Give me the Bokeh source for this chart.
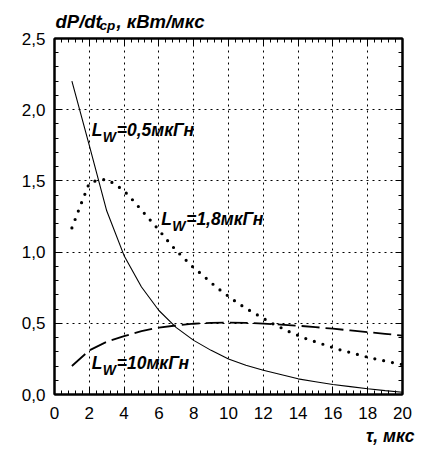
from bokeh.plotting import figure
from bokeh.models import Range1d, SingleIntervalTicker, LinearAxis, Label, CustomLabelingPolicy
from bokeh.core.properties import value
from bokeh.embed import file_html
from bokeh.resources import INLINE

# ---- data ----
tau_05 = [1, 2, 3, 4, 5, 6, 7, 8, 9, 10, 11, 12, 13, 14, 15, 16, 17, 18, 19, 20]
dp_05 = [2.20, 1.75, 1.29, 0.975, 0.755, 0.59, 0.47, 0.38, 0.31, 0.25,
         0.205, 0.17, 0.14, 0.11, 0.09, 0.07, 0.055, 0.04, 0.027, 0.016]

tau_18 = [1.0, 1.5, 2.0, 2.5, 3.0, 3.5, 4.0, 4.5, 5.0, 5.5, 6.0, 6.5, 7.0, 7.5,
          8.0, 8.5, 9.0, 9.5, 10.0, 10.5, 11.0, 11.5, 12.0, 12.5, 13.0, 13.5,
          14.0, 14.5, 15.0, 15.5, 16.0, 16.5, 17.0, 17.5, 18.0, 18.5, 19.0, 19.5, 20.0]
dp_18 = [1.17, 1.33, 1.485, 1.505, 1.51, 1.475, 1.43, 1.365, 1.295, 1.225, 1.155,
         1.08, 1.01, 0.95, 0.89, 0.84, 0.785, 0.735, 0.69, 0.645, 0.605, 0.57,
         0.535, 0.50, 0.47, 0.44, 0.415, 0.39, 0.37, 0.35, 0.33, 0.31, 0.295,
         0.278, 0.262, 0.248, 0.235, 0.222, 0.21]

tau_10 = [1, 2, 3, 4, 5, 6, 7, 8, 9, 10, 11, 12, 13, 14, 15, 16, 17, 18, 19, 20]
dp_10 = [0.20, 0.31, 0.37, 0.41, 0.445, 0.47, 0.485, 0.497, 0.503, 0.505,
         0.503, 0.498, 0.491, 0.483, 0.473, 0.462, 0.45, 0.438, 0.426, 0.414]

y_ticks = [0.0, 0.5, 1.0, 1.5, 2.0, 2.5]
y_tick_labels = ["0,0", "0,5", "1,0", "1,5", "2,0", "2,5"]

curve_labels = [("=0,5мкГн", 2.14, 1.807), ("=1,8мкГн", 6.13, 1.18), ("=10мкГн", 2.14, 0.169)]

y_title_main = "dP/dt"
y_title_sub = "ср"
y_title_rest = ", кВт/мкс"
x_title = "τ, мкс"

FONT = "Liberation Sans"
PX_PER_Y = 356 / 2.5
LIFT = 7 / PX_PER_Y   # baseline correction

p = figure(width=434, height=450, output_backend="svg", toolbar_location=None,
           x_range=Range1d(0, 20), y_range=Range1d(0, 2.5),
           min_border_left=54, min_border_right=21, min_border_top=38, min_border_bottom=56,
           background_fill_color="white", border_fill_color="white")

p.outline_line_color = "black"
p.outline_line_width = 2


def xt():
    return SingleIntervalTicker(interval=2, num_minor_ticks=5)


def yt():
    return SingleIntervalTicker(interval=0.5, num_minor_ticks=5)


def style_axis(ax):
    ax.axis_line_color = "black"
    ax.axis_line_width = 2
    ax.major_tick_in = 7
    ax.major_tick_out = 0
    ax.minor_tick_in = 4
    ax.minor_tick_out = 0
    ax.major_tick_line_color = "black"
    ax.minor_tick_line_color = "black"
    ax.major_tick_line_width = 1
    ax.minor_tick_line_width = 1
    ax.major_label_text_font = FONT
    ax.major_label_text_font_size = "17px"
    ax.major_label_text_color = "black"


p.xaxis.ticker = xt()
p.yaxis.ticker = yt()
for ax in p.xaxis:
    style_axis(ax)
    ax.major_label_standoff = 12
for ax in p.yaxis:
    style_axis(ax)
    ax.major_label_standoff = 9
    ax.major_label_overrides = {v: s for v, s in zip(y_ticks, y_tick_labels)}

hide_labels = "for (const i of indices) indices.unset(i)"
top = LinearAxis(ticker=xt())
style_axis(top)
top.major_label_policy = CustomLabelingPolicy(code=hide_labels)
p.add_layout(top, "above")
right = LinearAxis(ticker=yt())
style_axis(right)
right.major_label_policy = CustomLabelingPolicy(code=hide_labels)
p.add_layout(right, "right")

p.xgrid.ticker = xt()
p.ygrid.ticker = yt()
for g in (p.xgrid, p.ygrid):
    g.grid_line_color = "black"
    g.grid_line_dash = "2 4"
    g.grid_line_width = 1

# curves
p.line(tau_05, dp_05, line_color="black", line_width=1.1)
p.line(tau_18, dp_18, line_color="black", line_width=3.2, line_dash="0 9", line_cap="round")
p.line(tau_10, dp_10, line_color="black", line_width=1.8, line_dash="18 6")

# curve labels: L, subscript W, remainder
sub_dy = 7 / PX_PER_Y
for rest, lx, ly in curve_labels:
    ly = ly + LIFT
    p.add_layout(Label(x=lx, y=ly, text="L", text_font=FONT, text_font_size="17.5px",
                       text_font_style="bold italic", text_baseline="alphabetic",
                       text_color="black"))
    p.add_layout(Label(x=lx, y=ly - sub_dy, x_offset=11, text="W", text_font=FONT,
                       text_font_size="14px", text_font_style="bold italic",
                       text_baseline="alphabetic", text_color="black"))
    p.add_layout(Label(x=lx, y=ly, x_offset=25, text=rest, text_font=FONT,
                       text_font_size="17.5px", text_font_style="bold italic",
                       text_baseline="alphabetic", text_color="black"))


# axis titles, drawn outside the frame (overlay level is not clipped)
def out_text(x, y, txt, size, dx=0, align="left"):
    p.text(x=[x], y=[y], text=[txt], x_offset=dx, text_font=value(FONT),
           text_font_size=size, text_font_style="bold italic",
           text_baseline="alphabetic", text_align=align, text_color="black",
           level="overlay")


ty = 2.5 + 9.7 / PX_PER_Y + LIFT
out_text(0, ty, y_title_main, "18.5px", dx=1)
out_text(0, ty - 3.5 / PX_PER_Y, y_title_sub, "13.5px", dx=45)
out_text(0, ty, y_title_rest, "18.5px", dx=62)
out_text(20, -48 / PX_PER_Y + LIFT, x_title, "17.5px", dx=12, align="right")

open("out.html", "w").write(file_html(p, INLINE))
